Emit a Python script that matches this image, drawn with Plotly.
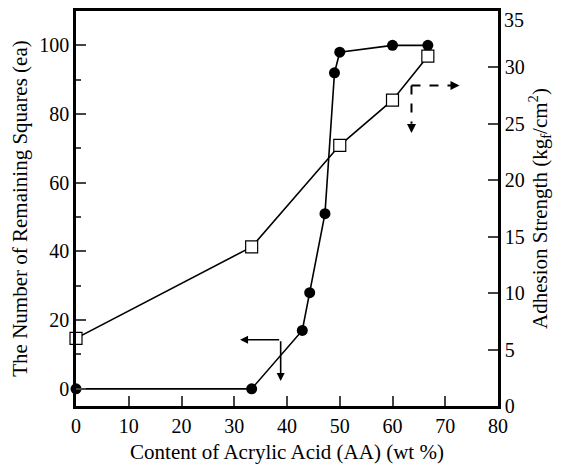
import plotly.graph_objects as go

# Remaining squares (left axis)
aa_squares = [0, 33.3, 42.9, 44.3, 47.2, 49.0, 50.0, 60.0, 66.7]
remaining = [0, 0, 17, 28, 51, 92, 98, 100, 100]

# Adhesion strength (right axis)
aa_adhesion = [0, 33.3, 50.0, 60.0, 66.7]
adhesion = [6.0, 14.1, 23.1, 27.1, 31.0]

# right-axis tick values (the top one, 35, is drawn as a label at the frame corner)
right_ticks = [0, 5, 10, 15, 20, 25, 30]
right_top = 35

FONT = "Liberation Serif"

fig = go.Figure()
fig.add_trace(go.Scatter(
    x=aa_squares, y=remaining, mode="lines+markers",
    line=dict(color="black", width=1.6),
    marker=dict(symbol="circle", size=11, color="black"),
    cliponaxis=False, showlegend=False))
fig.add_trace(go.Scatter(
    x=aa_adhesion, y=adhesion, mode="lines+markers", yaxis="y2",
    line=dict(color="black", width=1.6),
    marker=dict(symbol="square", size=12, color="white", line=dict(color="black", width=1.2)),
    cliponaxis=False, showlegend=False))

ann = []
# solid L arrow (left axis)
ann.append(dict(x=31.1, y=14.3, ax=38.8, ay=14.3, xref="x", yref="y", axref="x", ayref="y",
                text="", showarrow=True, arrowhead=2, arrowsize=1, arrowwidth=1.6, arrowcolor="black"))
ann.append(dict(x=38.8, y=2.3, ax=38.8, ay=14.3, xref="x", yref="y", axref="x", ayref="y",
                text="", showarrow=True, arrowhead=2, arrowsize=1, arrowwidth=1.6, arrowcolor="black"))
# dashed L arrow (right axis) heads
ann.append(dict(x=72.7, y=28.4, ax=-6, ay=0, xref="x", yref="y2",
                text="", showarrow=True, arrowhead=2, arrowsize=1, arrowwidth=1.8, arrowcolor="black"))
ann.append(dict(x=63.6, y=24.2, ax=0, ay=-6, xref="x", yref="y2",
                text="", showarrow=True, arrowhead=2, arrowsize=1, arrowwidth=1.8, arrowcolor="black"))
# top tick label of right axis
ann.append(dict(x=1, y=1, xref="paper", yref="paper", xanchor="left", yanchor="top",
                xshift=5, yshift=3, borderpad=0, showarrow=False,
                text=str(right_top), font=dict(family=FONT, size=20, color="black")))

shapes = [
    dict(type="line", x0=63.6, x1=71.8, y0=28.4, y1=28.4, xref="x", yref="y2",
         line=dict(color="black", width=2, dash="dash")),
    dict(type="line", x0=63.6, x1=63.6, y0=28.4, y1=25.0, xref="x", yref="y2",
         line=dict(color="black", width=2, dash="dash")),
]

fig.update_layout(
    width=557, height=460,
    margin=dict(l=68, r=67, t=3, b=62),
    paper_bgcolor="white", plot_bgcolor="white",
    font=dict(family=FONT, size=20, color="black"),
    annotations=ann, shapes=shapes,
    xaxis=dict(range=[0, 80], dtick=10, ticks="inside", ticklen=10, tickwidth=2,
               showline=True, linewidth=2.5, linecolor="black", mirror=True,
               showgrid=False, zeroline=False, automargin=False,
               title=dict(text="Content of Acrylic Acid (AA) (wt %)", font=dict(size=21), standoff=9)),
    yaxis=dict(range=[-5, 110], dtick=20, tick0=0, ticks="inside", ticklen=10, tickwidth=2,
               minor=dict(ticks="inside", ticklen=5, tickwidth=2, dtick=10, tick0=0),
               showline=True, linewidth=2.5, linecolor="black", mirror=True,
               showgrid=False, zeroline=False, automargin=False,
               title=dict(text="The Number of Remaining Squares (ea)", font=dict(size=21), standoff=6)),
    yaxis2=dict(range=[0, right_top], tickvals=right_ticks, overlaying="y", side="right",
                ticks="inside", ticklen=10, tickwidth=2,
                showline=True, linewidth=2.5, linecolor="black",
                showgrid=False, zeroline=False, automargin=False,
                title=dict(text="Adhesion Strength (kg<sub>f</sub>/cm<sup>2</sup>)", font=dict(size=21), standoff=9)),
)

fig.write_html("out.html")
